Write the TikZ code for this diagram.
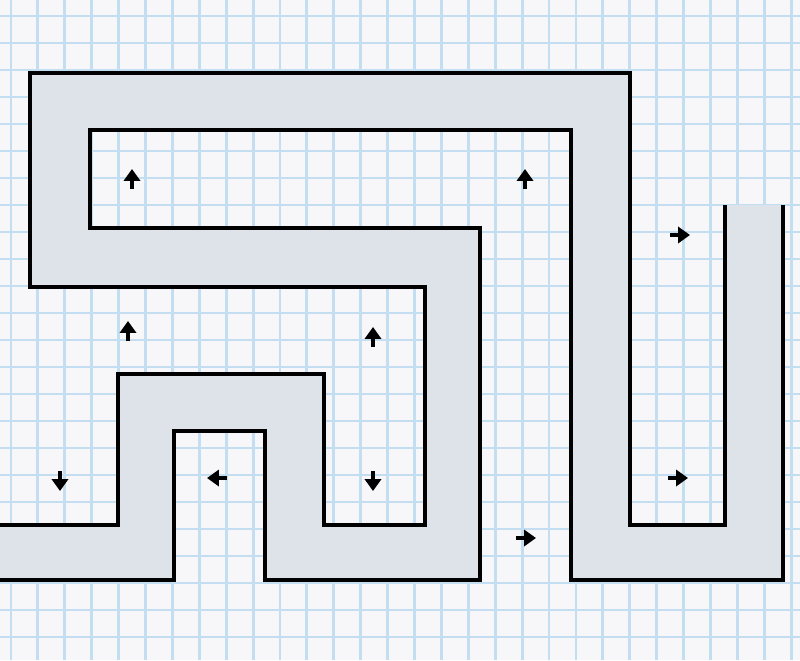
\documentclass[tikz,border=0pt]{standalone}
\usepackage{tikz}
\usetikzlibrary{arrows.meta}
\definecolor{PaperWhite}{RGB}{247,247,250}
\definecolor{GridBlue}{RGB}{194,222,240}
\definecolor{BandGray}{RGB}{222,227,233}
\tikzset{
  gridline/.style={draw=GridBlue,line width=2pt},
  band/.style={fill=BandGray,draw=none},
  rim/.style={draw=black,line width=2.9pt,line join=miter},
  flow/.style={draw=black,line width=2.8pt,-{Triangle[length=8.5pt,width=11.5pt]}},
}

\begin{document}
\begin{tikzpicture}[x=0.025cm,y=-0.025cm]
\useasboundingbox (0,0) rectangle (800,660);
\clip (0,0) rectangle (800,660);
% squared paper
\fill[PaperWhite] (0,0) rectangle (800,660);
\foreach \k in {0,...,29}
  \draw[gridline] ({11+26.9*\k},0) -- ({11+26.9*\k},660);
\foreach \k in {0,...,23}
  \draw[gridline] (0,{16+27*\k}) -- (800,{16+27*\k});
% one side of the band
\coordinate (a1) at (0,525);
\coordinate (a2) at (118,525);
\coordinate (a3) at (118,374);
\coordinate (a4) at (324,374);
\coordinate (a5) at (324,525);
\coordinate (a6) at (425,525);
\coordinate (a7) at (425,287);
\coordinate (a8) at (30,287);
\coordinate (a9) at (30,73);
\coordinate (a10) at (630,73);
\coordinate (a11) at (630,525);
\coordinate (a12) at (725,525);
\coordinate (a13) at (725,205);
% other side of the band
\coordinate (b1) at (0,580);
\coordinate (b2) at (174,580);
\coordinate (b3) at (174,431);
\coordinate (b4) at (265,431);
\coordinate (b5) at (265,580);
\coordinate (b6) at (480,580);
\coordinate (b7) at (480,228);
\coordinate (b8) at (90,228);
\coordinate (b9) at (90,130);
\coordinate (b10) at (571,130);
\coordinate (b11) at (571,580);
\coordinate (b12) at (783,580);
\coordinate (b13) at (783,205);
\fill[band] (a1)--(a2)--(a3)--(a4)--(a5)--(a6)--(a7)--(a8)--(a9)--(a10)--(a11)--(a12)--(a13)
  --(b13)--(b12)--(b11)--(b10)--(b9)--(b8)--(b7)--(b6)--(b5)--(b4)--(b3)--(b2)--(b1)--cycle;
\draw[rim] (a1)--(a2)--(a3)--(a4)--(a5)--(a6)--(a7)--(a8)--(a9)--(a10)--(a11)--(a12)--(a13);
\draw[rim] (b1)--(b2)--(b3)--(b4)--(b5)--(b6)--(b7)--(b8)--(b9)--(b10)--(b11)--(b12)--(b13);
% small arrows (tail points)
\coordinate (up1) at (132,189);
\coordinate (up2) at (525,189);
\coordinate (up3) at (128,341);
\coordinate (up4) at (373,347);
\coordinate (dn1) at (60,471);
\coordinate (dn2) at (373,471);
\coordinate (lt1) at (227,478);
\coordinate (rt1) at (670,235);
\coordinate (rt2) at (516,538);
\coordinate (rt3) at (668,478);
\draw[flow] (up1) -- ++(0,-20);
\draw[flow] (up2) -- ++(0,-20);
\draw[flow] (up3) -- ++(0,-20);
\draw[flow] (up4) -- ++(0,-20);
\draw[flow] (dn1) -- ++(0,20);
\draw[flow] (dn2) -- ++(0,20);
\draw[flow] (lt1) -- ++(-20,0);
\draw[flow] (rt1) -- ++(20,0);
\draw[flow] (rt2) -- ++(20,0);
\draw[flow] (rt3) -- ++(20,0);
\end{tikzpicture}
\end{document}
